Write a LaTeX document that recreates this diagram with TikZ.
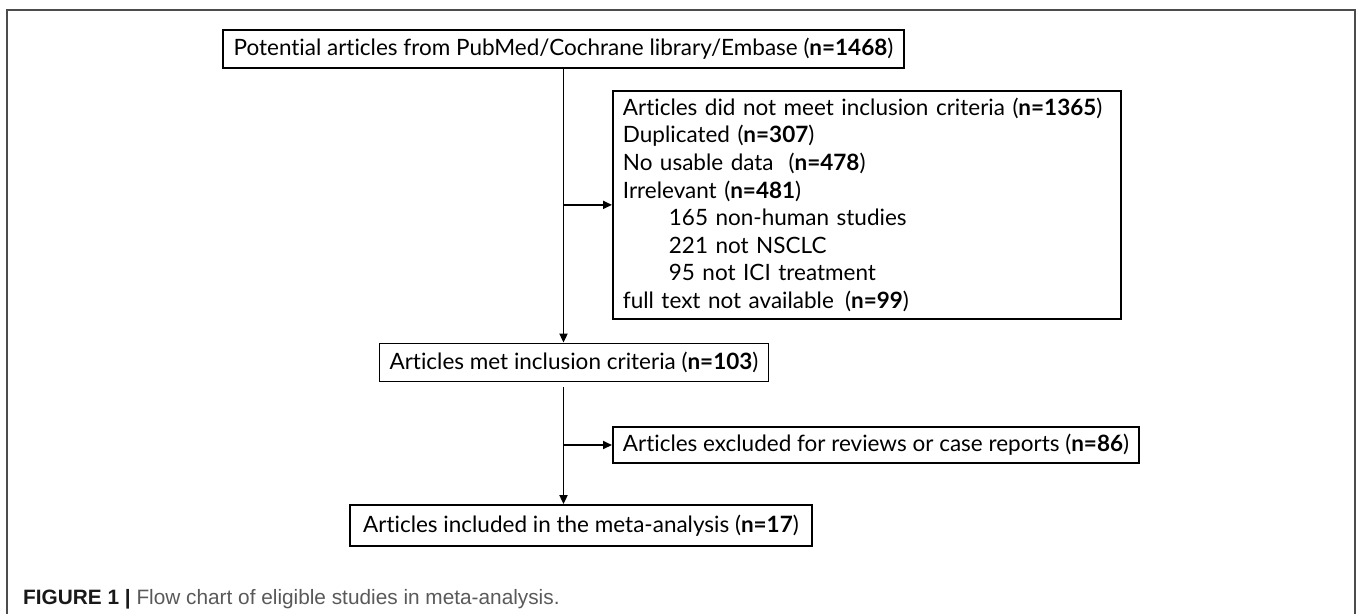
\documentclass[tikz,border=0pt]{standalone}
\usepackage{fontspec}
\setmainfont{Lato}[Ligatures={NoCommon}]
\newfontfamily\capfont{Liberation Sans}
\usetikzlibrary{arrows.meta}

\begin{document}
\begin{tikzpicture}[x=1pt, y=-1pt,
  box/.style={draw=black, line width=1.8pt, inner xsep=10pt, inner ysep=0pt, minimum height=38pt, font=\fontsize{22.5}{27.6}\selectfont, align=center},
  flow/.style={line width=1.8pt, -{Triangle[length=9pt,width=8pt]}}]

\useasboundingbox (0,0) rectangle (1360,614);

% frame of the figure
\draw[black!70, line width=1.3pt] (7,614) -- (7,10) -- (1355,10) -- (1355,614);

\node[box, minimum width=681pt] (potential) at (563.5,49) {Potential articles from PubMed/Cochrane library/Embase (\textbf{n=1468})};
\node[box, anchor=north west, text width=488pt, align=left, inner ysep=7pt] (excluded) at (612,90) {Articles did not meet inclusion criteria (\textbf{n=1365})\\
Duplicated (\textbf{n=307})\\
No usable data\ \ (\textbf{n=478})\\
Irrelevant (\textbf{n=481})\\
\hspace*{46pt}165 non-human studies\\
\hspace*{46pt}221 not NSCLC\\
\hspace*{46pt}95 not ICI treatment\\
full text not available\enspace(\textbf{n=99})};
\node[box, minimum width=386pt] (met) at (574,362.5) {Articles met inclusion criteria (\textbf{n=103})};
\node[box, anchor=west, minimum width=516pt, minimum height=36pt] (reviews) at (612,445) {Articles excluded for reviews or case reports (\textbf{n=86})};
\node[box, minimum width=462pt, minimum height=41pt] (included) at (581,525.5) {Articles included in the meta-analysis (\textbf{n=17})};

\coordinate (gap) at ([yshift=-5pt]met.south);

\draw[flow] (potential.south) -- (potential.south |- met.north);
\draw[flow] (potential.south |- excluded.west) -- (excluded.west);
\draw[flow] (gap -| potential.south) -- (potential.south |- included.north);
\draw[flow] (potential.south |- reviews.west) -- (reviews.west);

\node[anchor=west, inner sep=0pt, font=\capfont\fontsize{20.8}{24}\selectfont, text=black!65] (caption) at (23,599) {\textbf{\color{black!90}FIGURE 1 |} Flow chart of eligible studies in meta-analysis.};

\end{tikzpicture}
\end{document}
